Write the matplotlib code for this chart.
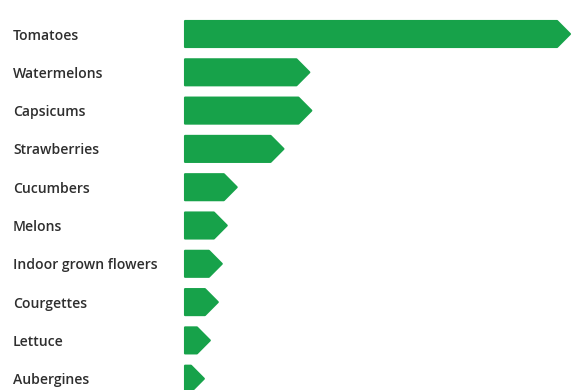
import matplotlib
matplotlib.use("Agg")
import matplotlib.pyplot as plt
from matplotlib.patches import Polygon

categories = ["Tomatoes", "Watermelons", "Capsicums", "Strawberries", "Cucumbers",
              "Melons", "Indoor grown flowers", "Courgettes", "Lettuce", "Aubergines"]
values = [387, 125, 127, 99, 52, 42, 37, 33, 25, 19]

GREEN = "#17a24a"
TEXT = "#2e2e2e"

fig = plt.figure(figsize=(5.72, 3.90), dpi=100)
W, H = 572, 390
ax = fig.add_axes([185 / W, 0, (572 - 185) / W, 1])
ax.set_xlim(0, 389)
step = 38.3
ax.set_ylim((390 - 34) / step, -34 / step)
ax.axis("off")

bar_h = 0.68
tip = 13
for i, (c, v) in enumerate(zip(categories, values)):
    t = min(tip, v)
    y0, y1 = i - bar_h / 2, i + bar_h / 2
    pts = [(0, y0), (v - t, y0), (v, i), (v - t, y1), (0, y1)]
    ax.add_patch(Polygon(pts, closed=True, facecolor=GREEN, edgecolor=GREEN,
                         linewidth=1.5, joinstyle="round", clip_on=False))
    ypix = 34 + step * i + 1.5
    fig.text(13 / W, 1 - ypix / H, c, ha="left", va="center", fontsize=10.1,
             color=TEXT, family="Open Sans", fontweight="semibold")

fig.savefig("out.png", dpi=100)
